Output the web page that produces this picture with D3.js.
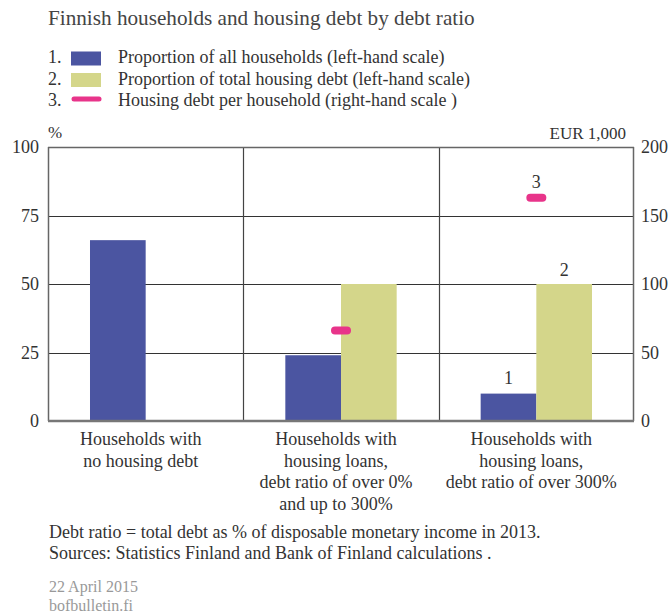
<!DOCTYPE html>
<html>
<head>
<meta charset="utf-8">
<script src="https://cdn.jsdelivr.net/npm/d3@7"></script>
<style>
  body { margin: 0; background: #fff; }
  svg text { font-family: "Liberation Serif", "DejaVu Serif", serif; fill: #333; }
</style>
</head>
<body>
<div id="chart-area"></div>
<script>

// SVG Size
var width = 671,
    height = 616;

// Data
var categories = ["none", "upto300", "over300"];
var categoryLabels = [
    ["Households with", "no housing debt"],
    ["Households with", "housing loans,", "debt ratio of over 0%", "and up to 300%"],
    ["Households with", "housing loans,", "debt ratio of over 300%"]
];
var shareOfHouseholds = [66, 24, 10];      // %, left scale
var shareOfHousingDebt = [0, 50, 50];      // %, left scale
var debtPerHousehold = [null, 66, 163];    // EUR 1,000, right scale
var leftTicks = [0, 25, 50, 75, 100];
var rightTicks = [0, 50, 100, 150, 200];
var legendLabels = [
    "Proportion of all households (left-hand scale)",
    "Proportion of total housing debt (left-hand scale)",
    "Housing debt per household (right-hand scale )"
];
var footnotes = [
    "Debt ratio = total debt as % of disposable monetary income in 2013.",
    "Sources: Statistics Finland and Bank of Finland calculations ."
];

var blue = "#4b55a1",
    olive = "#d4d68a",
    pink = "#e8348a";

var svg = d3.select("#chart-area")
    .append("svg")
    .attr("width", width)
    .attr("height", height);

var margin = {left: 48, right: 37, top: 147, bottom: 195};

var xScale = d3.scaleBand()
    .domain(categories)
    .range([margin.left, width - margin.right]);

var yLeft = d3.scaleLinear()
    .domain([0, 100])
    .range([height - margin.bottom, margin.top]);

var yRight = d3.scaleLinear()
    .domain([0, 200])
    .range([height - margin.bottom, margin.top]);

var barWidth = xScale.bandwidth() * 0.285;

// Title
svg.append("text")
    .attr("x", 48)
    .attr("y", 25)
    .style("font-size", "21.2px")
    .style("fill", "#444")
    .text("Finnish households and housing debt by debt ratio");

// Legend
var legend = svg.append("g");
legendLabels.forEach(function (label, i) {
    var y = 63 + i * 21.5;
    legend.append("text")
        .attr("x", 48)
        .attr("y", y)
        .style("font-size", "18px")
        .text((i + 1) + ".");
    if (i < 2) {
        legend.append("rect")
            .attr("x", 71)
            .attr("y", y - 11.5)
            .attr("width", 30)
            .attr("height", 14)
            .attr("fill", i === 0 ? blue : olive);
    } else {
        legend.append("line")
            .attr("x1", 74)
            .attr("x2", 99)
            .attr("y1", y - 7)
            .attr("y2", y - 7)
            .attr("stroke", pink)
            .attr("stroke-width", 5)
            .attr("stroke-linecap", "round");
    }
    legend.append("text")
        .attr("x", 118)
        .attr("y", y)
        .style("font-size", "18px")
        .text(label);
});

// Axis titles
svg.append("text")
    .attr("x", 48)
    .attr("y", 138)
    .style("font-size", "17px")
    .text("%");

svg.append("text")
    .attr("x", 626)
    .attr("y", 139)
    .attr("text-anchor", "end")
    .style("font-size", "17px")
    .text("EUR 1,000");

// Grid lines
svg.append("g")
    .selectAll("line")
    .data([25, 50, 75])
    .enter()
    .append("line")
    .attr("x1", margin.left)
    .attr("x2", width - margin.right)
    .attr("y1", function (d) { return Math.round(yLeft(d)) + 0.5; })
    .attr("y2", function (d) { return Math.round(yLeft(d)) + 0.5; })
    .attr("stroke", "#333")
    .attr("stroke-width", 1.2);

// Category dividers
svg.append("g")
    .selectAll("line")
    .data(categories.slice(1))
    .enter()
    .append("line")
    .attr("x1", function (d) { return Math.round(xScale(d)) + 0.5; })
    .attr("x2", function (d) { return Math.round(xScale(d)) + 0.5; })
    .attr("y1", yLeft(100))
    .attr("y2", yLeft(0))
    .attr("stroke", "#444")
    .attr("stroke-width", 1.2);

// Bars
var bars = svg.append("g");
bars.selectAll(".bar-households")
    .data(shareOfHouseholds)
    .enter()
    .append("rect")
    .attr("class", "bar-households")
    .attr("x", function (d, i) { return xScale(categories[i]) + xScale.bandwidth() / 2 - barWidth; })
    .attr("y", function (d) { return yLeft(d); })
    .attr("width", barWidth)
    .attr("height", function (d) { return yLeft(0) - yLeft(d); })
    .attr("fill", blue);

bars.selectAll(".bar-debt")
    .data(shareOfHousingDebt)
    .enter()
    .append("rect")
    .attr("class", "bar-debt")
    .attr("x", function (d, i) { return xScale(categories[i]) + xScale.bandwidth() / 2; })
    .attr("y", function (d) { return yLeft(d); })
    .attr("width", barWidth)
    .attr("height", function (d) { return yLeft(0) - yLeft(d); })
    .attr("fill", olive);

// Debt per household markers
svg.append("g")
    .selectAll("rect")
    .data(debtPerHousehold)
    .enter()
    .filter(function (d) { return d !== null; })
    .append("rect")
    .attr("x", function (d) { return xScale(categories[debtPerHousehold.indexOf(d)]) + xScale.bandwidth() / 2 - 10; })
    .attr("y", function (d) { return yRight(d) - 4; })
    .attr("width", 20)
    .attr("height", 8)
    .attr("rx", 4)
    .attr("fill", pink);

// Number labels on the last category
var last = categories[2];
var cx = xScale(last) + xScale.bandwidth() / 2;
svg.append("text")
    .attr("x", cx - barWidth / 2)
    .attr("y", yLeft(shareOfHouseholds[2]) - 10)
    .attr("text-anchor", "middle")
    .style("font-size", "18px")
    .text("1");
svg.append("text")
    .attr("x", cx + barWidth / 2)
    .attr("y", yLeft(shareOfHousingDebt[2]) - 8)
    .attr("text-anchor", "middle")
    .style("font-size", "18px")
    .text("2");
svg.append("text")
    .attr("x", cx)
    .attr("y", yRight(debtPerHousehold[2]) - 10)
    .attr("text-anchor", "middle")
    .style("font-size", "18px")
    .text("3");

// Frame: top, left, right, bottom
var frame = svg.append("g").attr("fill", "none");
frame.append("line")
    .attr("x1", margin.left).attr("x2", width - margin.right)
    .attr("y1", yLeft(100) + 0.5).attr("y2", yLeft(100) + 0.5)
    .attr("stroke", "#666").attr("stroke-width", 1.5);
frame.append("line")
    .attr("x1", margin.left + 0.5).attr("x2", margin.left + 0.5)
    .attr("y1", yLeft(100)).attr("y2", yLeft(0))
    .attr("stroke", "#666").attr("stroke-width", 1.5);
frame.append("line")
    .attr("x1", width - margin.right - 0.5).attr("x2", width - margin.right - 0.5)
    .attr("y1", yLeft(100)).attr("y2", yLeft(0))
    .attr("stroke", "#666").attr("stroke-width", 1.5);
frame.append("line")
    .attr("x1", margin.left).attr("x2", width - margin.right)
    .attr("y1", yLeft(0)).attr("y2", yLeft(0))
    .attr("stroke", "#777").attr("stroke-width", 2.5);

// Axes (labels only)
var leftAxis = d3.axisLeft(yLeft).tickValues(leftTicks).tickSize(0).tickPadding(9);
var rightAxis = d3.axisRight(yRight).tickValues(rightTicks).tickSize(0).tickPadding(7);

svg.append("g")
    .attr("class", "axis y-axis")
    .attr("transform", "translate(" + margin.left + ",0)")
    .call(leftAxis)
    .call(function (g) { g.select(".domain").remove(); })
    .selectAll("text")
    .style("font-size", "18px")
    .style("font-family", "'Liberation Serif', serif")
    .attr("fill", "#444");

svg.append("g")
    .attr("class", "axis y-axis-right")
    .attr("transform", "translate(" + (width - margin.right) + ",0)")
    .call(rightAxis)
    .call(function (g) { g.select(".domain").remove(); })
    .selectAll("text")
    .style("font-size", "18px")
    .style("font-family", "'Liberation Serif', serif")
    .attr("fill", "#444");

// Category labels
var catLabels = svg.append("g");
categoryLabels.forEach(function (lines, i) {
    var t = catLabels.append("text")
        .attr("text-anchor", "middle")
        .attr("x", xScale(categories[i]) + xScale.bandwidth() / 2 - 5)
        .attr("y", 445)
        .style("font-size", "18px");
    lines.forEach(function (line, j) {
        t.append("tspan")
            .attr("x", xScale(categories[i]) + xScale.bandwidth() / 2 - 5)
            .attr("y", 445 + j * 21.7)
            .text(line);
    });
});

// Footnotes
footnotes.forEach(function (line, i) {
    svg.append("text")
        .attr("x", 49)
        .attr("y", 538 + i * 21)
        .style("font-size", "18px")
        .text(line);
});

svg.append("text")
    .attr("x", 49)
    .attr("y", 592)
    .style("font-size", "16px")
    .style("fill", "#999")
    .text("22 April 2015");

svg.append("text")
    .attr("x", 49)
    .attr("y", 611)
    .style("font-size", "16px")
    .style("fill", "#999")
    .text("bofbulletin.fi");

</script>
</body>
</html>
